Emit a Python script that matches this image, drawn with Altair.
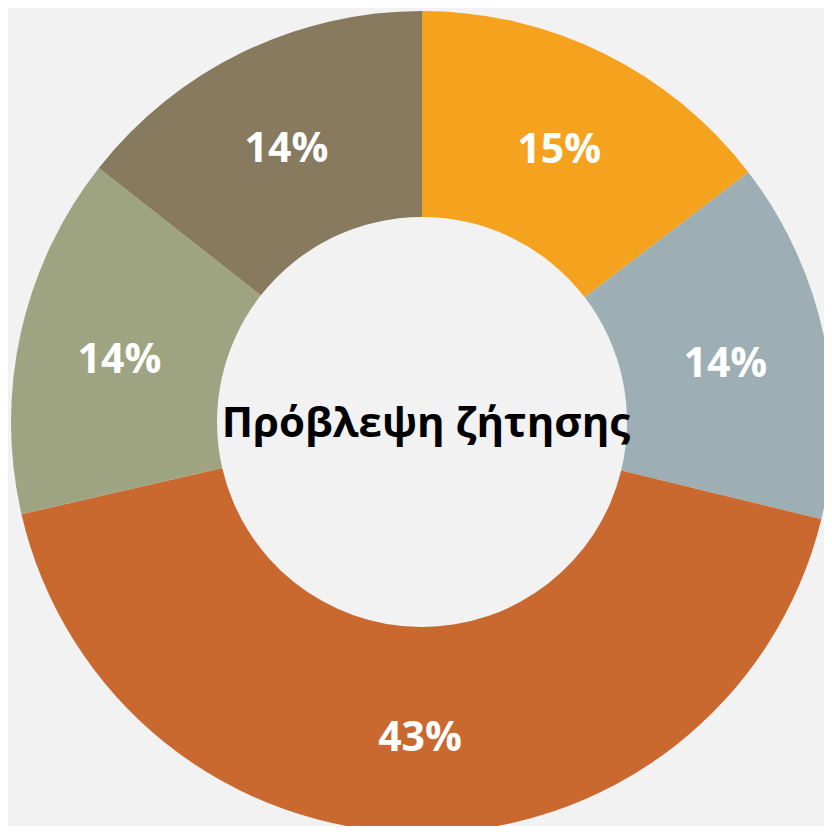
import altair as alt
import pandas as pd

categories = ["A", "B", "C", "D", "E"]
values = [14.6, 14.2, 42.6, 14.2, 14.4]
labels = ["15%", "14%", "43%", "14%", "14%"]
colors = ["#F5A31F", "#9DAFB4", "#C9682F", "#9EA381", "#877A5E"]
center_title = "Πρόβλεψη ζήτησης"

df = pd.DataFrame({
    "cat": categories,
    "value": values,
    "label": labels,
    "order": list(range(len(categories))),
})

W, H = 816, 818
CX, CY = 414, 414

base = alt.Chart(df).encode(
    theta=alt.Theta("value:Q", stack=True),
    order=alt.Order("order:Q"),
    x=alt.value(CX),
    y=alt.value(CY),
)

arcs = base.mark_arc(outerRadius=411, innerRadius=205).encode(
    color=alt.Color("cat:N", scale=alt.Scale(domain=categories, range=colors), legend=None)
)

texts = base.mark_text(
    radius=310, fontSize=41, fontWeight="bold", font="Open Sans", color="white",
    align="center", baseline="middle", dy=7
).encode(text="label:N")

center = alt.Chart(pd.DataFrame({"t": [center_title]})).mark_text(
    fontSize=42, fontWeight="bold", font="Open Sans", color="black",
    align="center", baseline="middle"
).encode(text="t:N", x=alt.value(CX + 4), y=alt.value(CY + 2))

chart = (arcs + texts + center).properties(
    width=W, height=H, padding=0, background="#F2F2F2",
    autosize=alt.AutoSizeParams(type="none"),
).configure_view(stroke=None)

chart.save("out.html", embed_options={"renderer": "svg", "actions": False})
